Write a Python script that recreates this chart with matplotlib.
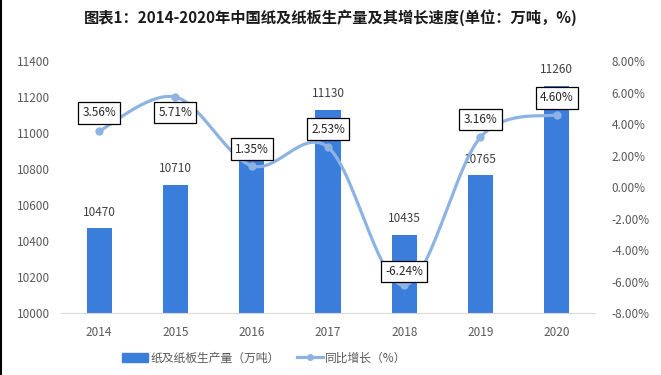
import matplotlib
matplotlib.use("Agg")
import matplotlib.pyplot as plt
import numpy as np
from matplotlib.lines import Line2D
from matplotlib.patches import Patch

plt.rcParams['font.family'] = ['Noto Sans CJK SC', 'DejaVu Sans']

years = ['2014', '2015', '2016', '2017', '2018', '2019', '2020']
output = [10470, 10710, 10855, 11130, 10435, 10765, 11260]
output_labels = ['10470', '10710', '', '11130', '10435', '10765', '11260']
growth = [3.56, 5.71, 1.35, 2.53, -6.24, 3.16, 4.60]
# where each growth label sits relative to its point (offset in points)
growth_offsets = [(0, 13), (0, -11), (0, 12), (0, 13), (0, 10), (0, 13), (0, 12)]

bar_color = '#3a7ddb'
line_color = '#8db3e3'
text_color = '#595959'


def catmull(xs, ys, n=30):
    # smooth curve through the points, roughly like Excel's smoothed lines
    xs = np.asarray(xs, float)
    ys = np.asarray(ys, float)
    px = np.concatenate([[xs[0]], xs, [xs[-1]]])
    py = np.concatenate([[ys[0]], ys, [ys[-1]]])
    out_x, out_y = [], []
    for i in range(1, len(px) - 2):
        p0 = np.array([px[i], py[i]])
        p1 = np.array([px[i + 1], py[i + 1]])
        c0 = p0 + (np.array([px[i + 1], py[i + 1]]) - np.array([px[i - 1], py[i - 1]])) / 6
        c1 = p1 - (np.array([px[i + 2], py[i + 2]]) - np.array([px[i], py[i]])) / 6
        t = np.linspace(0, 1, n)[:, None]
        pts = (1 - t) ** 3 * p0 + 3 * (1 - t) ** 2 * t * c0 + 3 * (1 - t) * t ** 2 * c1 + t ** 3 * p1
        out_x.extend(pts[:, 0])
        out_y.extend(pts[:, 1])
    return np.array(out_x), np.array(out_y)


fig = plt.figure(figsize=(6.61, 3.75), dpi=100)
ax = fig.add_axes([0.0923, 0.1653, 0.8077, 0.672])
x = np.arange(len(years))

ax.bar(x, output, width=0.33, color=bar_color, zorder=2)
ax.set_ylim(10000, 11400)
ax.set_yticks(range(10000, 11401, 200))
ax.set_xlim(-0.5, len(years) - 0.5)
ax.set_xticks(x, years)
for sp in ['top', 'left', 'right']:
    ax.spines[sp].set_visible(False)
ax.spines['bottom'].set_color('#d9d9d9')
ax.tick_params(length=0, labelsize=8.5, labelcolor=text_color, pad=8)
ax.tick_params(axis='x', pad=9)
for xi, v, lab in zip(x, output, output_labels):
    if lab:
        ax.annotate(lab, (xi, v), xytext=(0, 7), textcoords='offset points',
                    ha='center', va='bottom', fontsize=8.5, color='#404040')

ax2 = ax.twinx()
ax2.set_ylim(-8, 8)
ax2.set_yticks(np.arange(-8, 8.1, 2))
ax2.set_yticklabels(['%.2f%%' % v for v in np.arange(-8, 8.1, 2)])
for sp in ax2.spines.values():
    sp.set_visible(False)
ax2.tick_params(length=0, labelsize=8.5, labelcolor=text_color, pad=12)

sx, sy = catmull(x, growth)
ax2.plot(sx, sy, color=line_color, lw=2.3, zorder=3, solid_capstyle='round')
ax2.plot(x, growth, 'o', color=line_color, ms=5, zorder=4)
for xi, g, off in zip(x, growth, growth_offsets):
    ax2.annotate('%.2f%%' % g, (xi, g), xytext=off, textcoords='offset points',
                 ha='center', va='center', fontsize=8.5, color='#262626', zorder=6,
                 bbox=dict(boxstyle='square,pad=0.35', fc='white', ec='black', lw=0.9))

fig.text(0.5, 0.952, '图表1：2014-2020年中国纸及纸板生产量及其增长速度(单位：万吨，%)',
         ha='center', va='center', fontsize=11, fontweight='bold', color='#1a1a1a')

handles = [Patch(color=bar_color),
           Line2D([], [], color=line_color, lw=2.3, marker='o', ms=4)]
fig.legend(handles, ['纸及纸板生产量（万吨）', '同比增长（%）'], loc='center',
           bbox_to_anchor=(0.4, 0.045), ncol=2, frameon=False, fontsize=8.5,
           labelcolor=text_color, handlelength=2.2, handletextpad=0.2, columnspacing=1.4)

fig.add_artist(Line2D([0.002, 0.002], [0, 1], color='black', lw=1.5, transform=fig.transFigure))

fig.savefig('out.png', dpi=100)
